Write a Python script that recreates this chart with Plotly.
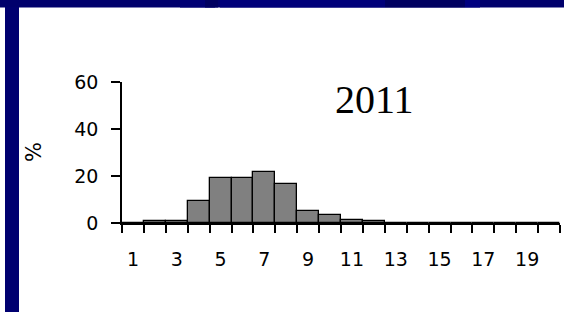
import plotly.graph_objects as go

categories = list(range(1, 21))
percent = [0, 0.8, 0.8, 9.2, 19.2, 19.2, 21.7, 16.6, 4.9, 3.4, 1.4, 0.8,
           0, 0, 0, 0, 0, 0, 0, 0]
x_tick_labels = [1, 3, 5, 7, 9, 11, 13, 15, 17, 19]
y_tick_labels = [0, 20, 40, 60]
title_text = "2011"
y_label = "%"

W, H = 564, 312
L, R, T, B = 122, 4, 82, 89
PW, PH = W - L - R, H - T - B


def px(p):
    return (p - L) / PW


def py(q):
    return (H - B - q) / PH


fig = go.Figure()
fig.add_trace(go.Bar(
    x=categories, y=percent,
    marker=dict(color="#808080", line=dict(color="black", width=1.3)),
    width=1.0,
))

fig.update_layout(
    width=W, height=H,
    margin=dict(l=L, r=R, t=T, b=B, pad=0),
    paper_bgcolor="white", plot_bgcolor="white",
    showlegend=False, bargap=0,
    font=dict(family="DejaVu Sans", size=19, color="black"),
)

fig.update_xaxes(
    range=[0.5, 20.5], showgrid=False, zeroline=False,
    showline=True, linecolor="black", linewidth=1.5,
    tickmode="array", tickvals=x_tick_labels,
    ticktext=[str(v) for v in x_tick_labels],
    ticks="", ticklabelstandoff=18,
    minor=dict(tickmode="array", tickvals=[c - 0.5 for c in categories] + [20.5],
               ticks="outside", ticklen=8, tickcolor="black", tickwidth=1.5,
               showgrid=False),
)
fig.update_yaxes(
    range=[0, 60], showgrid=False, zeroline=False,
    showline=True, linecolor="black", linewidth=1.5,
    tickmode="array", tickvals=y_tick_labels,
    ticks="outside", ticklen=9, tickcolor="black", tickwidth=1.5,
    ticklabelstandoff=9,
)

# frame: top band and left bar
fig.add_shape(type="rect", xref="paper", yref="paper",
              x0=px(-10), x1=px(W + 10), y0=py(7.5), y1=py(-10),
              fillcolor="#00006c", line=dict(width=0), layer="above")
for a, b, c in [(180, 215, "#000074"), (205, 218, "#000060"), (220, 385, "#00007a"),
                (385, 465, "#000060"), (465, 480, "#000080")]:
    fig.add_shape(type="rect", xref="paper", yref="paper",
                  x0=px(a), x1=px(b), y0=py(7.5), y1=py(-10),
                  fillcolor=c, line=dict(width=0), layer="above")
fig.add_shape(type="rect", xref="paper", yref="paper",
              x0=px(5), x1=px(19), y0=py(H + 10), y1=py(7),
              fillcolor="#000070", line=dict(width=0), layer="above")

fig.add_annotation(text=title_text, xref="paper", yref="paper",
                   x=px(374), y=py(99), showarrow=False,
                   font=dict(family="Liberation Serif", size=40, color="black"),
                   xanchor="center", yanchor="middle")
fig.add_annotation(text=y_label, xref="paper", yref="paper",
                   x=px(34), y=py(152), showarrow=False, textangle=-90,
                   font=dict(family="DejaVu Sans", size=21, color="black"),
                   xanchor="center", yanchor="middle")

fig.write_html("out.html", config={"displayModeBar": False},
               post_script="document.body.style.margin='0';document.body.style.overflow='hidden';")
